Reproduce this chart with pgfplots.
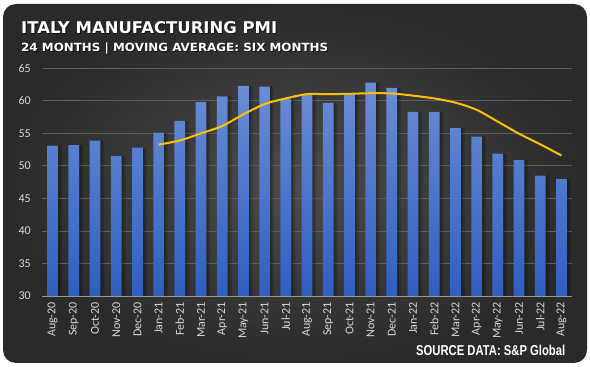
\documentclass[border=0pt]{standalone}
\usepackage{pgfplots}
\pgfplotsset{compat=1.18}
\usepackage{fontspec}
\setmainfont{Carlito}
\newfontfamily\titlefont{DejaVu Sans}
\newfontfamily\srcfont{Liberation Sans}
\definecolor{bgin}{HTML}{4C4C4C}
\definecolor{bgout}{HTML}{2A2A2A}
\definecolor{bartop}{HTML}{6A8ED6}
\definecolor{barbot}{HTML}{2F5FC0}
\definecolor{maline}{HTML}{FFC000}
\definecolor{gridc}{HTML}{5E5E5E}
\definecolor{labc}{HTML}{D9D9D9}
\pgfplotstableread{
x y
0 53.1
1 53.2
2 53.9
3 51.5
4 52.8
5 55.1
6 56.9
7 59.8
8 60.7
9 62.3
10 62.2
11 60.3
12 60.9
13 59.7
14 61.1
15 62.8
16 62.0
17 58.3
18 58.3
19 55.8
20 54.5
21 51.9
22 50.9
23 48.5
24 48.0
}\pmi
\pgfplotstableread{
x y
5 53.27
6 53.90
7 55.00
8 56.13
9 57.93
10 59.50
11 60.37
12 61.03
13 61.02
14 61.08
15 61.17
16 61.13
17 60.80
18 60.37
19 59.72
20 58.62
21 56.80
22 54.95
23 53.32
24 51.60
}\mavg
\begin{document}
\begin{tikzpicture}
\useasboundingbox (0,0) rectangle (590bp,367bp);
\fill[white] (0,0) rectangle (590bp,367bp);
\shade[rounded corners=13bp, inner color=bgin, outer color=bgout] (3bp,4bp) rectangle (587bp,363bp);
% title
\node[anchor=base west, inner sep=0pt, black, opacity=0.6] at (22bp,332.7bp) {\resizebox{256bp}{12bp}{\titlefont\bfseries ITALY MANUFACTURING PMI}};
\node[anchor=base west, inner sep=0pt, white] at (21bp,333.7bp) {\resizebox{256bp}{12bp}{\titlefont\bfseries ITALY MANUFACTURING PMI}};
\node[anchor=base west, inner sep=0pt, black, opacity=0.6] at (22bp,314.3bp) {\resizebox{307bp}{8.6bp}{\titlefont\bfseries 24 MONTHS | MOVING AVERAGE: SIX MONTHS}};
\node[anchor=base west, inner sep=0pt, white] at (21bp,315.3bp) {\resizebox{307bp}{8.6bp}{\titlefont\bfseries 24 MONTHS | MOVING AVERAGE: SIX MONTHS}};
\node[anchor=base west, inner sep=0pt, white] at (416bp,11bp) {\resizebox{149bp}{10.4bp}{\srcfont\bfseries SOURCE DATA: S\&P Global}};
\begin{axis}[
  at={(42bp,71bp)}, anchor=south west,
  width=530bp, height=227.7bp, scale only axis,
  xmin=-0.5, xmax=24.5, ymin=30, ymax=65,
  ytick={30,35,...,65},
  xtick={0,...,24},
  xticklabels={Aug-20,Sep-20,Oct-20,Nov-20,Dec-20,Jan-21,Feb-21,Mar-21,Apr-21,May-21,Jun-21,Jul-21,Aug-21,Sep-21,Oct-21,Nov-21,Dec-21,Jan-22,Feb-22,Mar-22,Apr-22,May-22,Jun-22,Jul-22,Aug-22},
  major tick length=0pt,
  axis line style={draw=none},
  ymajorgrids, grid style={gridc, line width=0.8bp},
  xticklabel style={rotate=90, anchor=east, inner sep=0pt, labc, font=\fontsize{12bp}{14bp}\selectfont},
  yticklabel style={anchor=east, inner sep=0pt, labc, font=\fontsize{12bp}{14bp}\selectfont},
  xticklabel shift=6bp, yticklabel shift=11bp,
  /pgf/number format/assume math mode=true,
  clip=false,
]
\addplot[ybar, bar width=10.7bp, bar shift=4bp, fill=black, draw=none, opacity=0.15] table[x=x,y=y] {\pmi};
\addplot[ybar, bar width=10.7bp, bar shift=2bp, fill=black, draw=none, opacity=0.2] table[x=x,y=y] {\pmi};
\addplot[ybar, bar width=10.7bp, bar shift=0bp, draw=none, top color=bartop, bottom color=barbot] table[x=x,y=y] {\pmi};
\draw[color=gray!80!white, line width=0.8bp] (axis cs:-0.5,30) -- (axis cs:24.5,30);
\addplot[maline, line width=2bp, smooth, no markers] table[x=x,y=y] {\mavg};
\end{axis}
\end{tikzpicture}
\end{document}
